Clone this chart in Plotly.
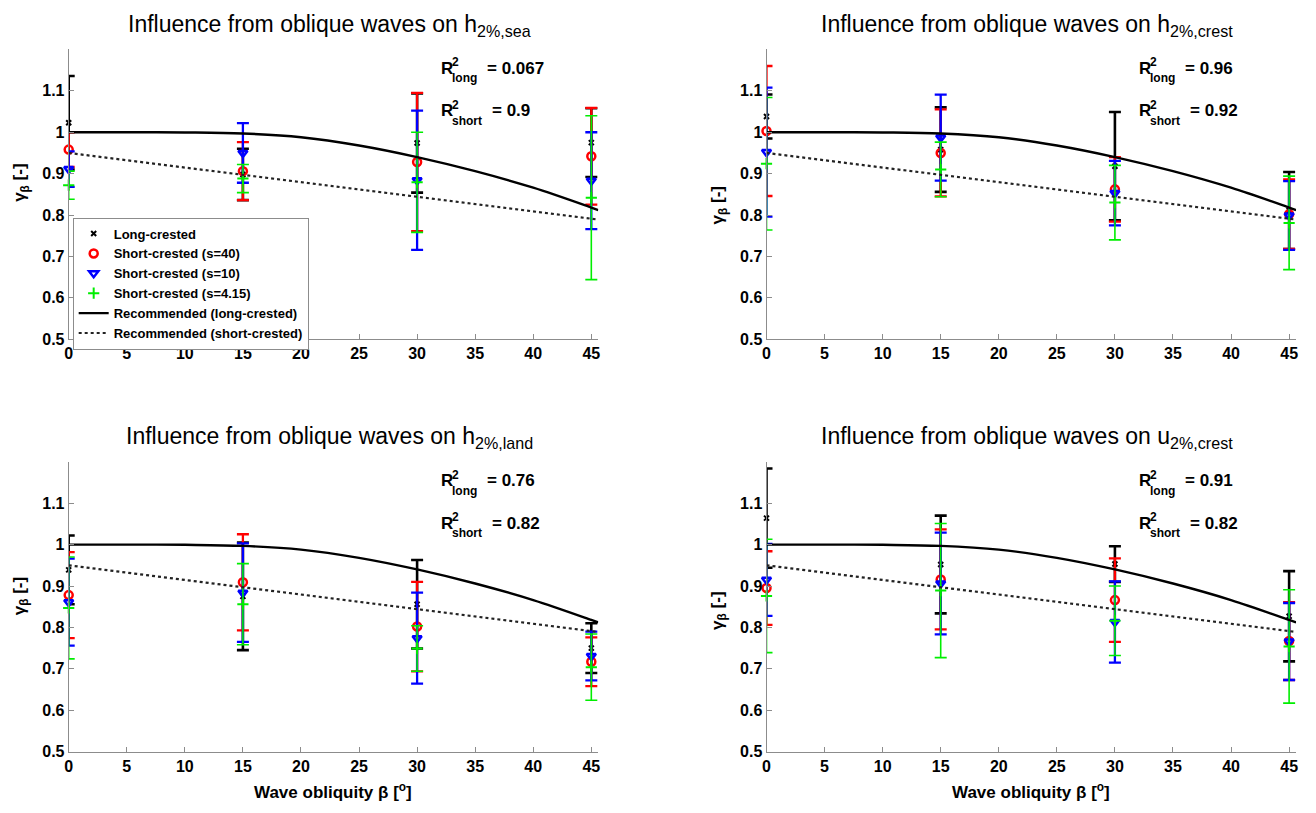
import plotly.graph_objects as go

# ---------------- data ----------------
beta = [0, 15, 30, 45]

# h2%,sea
sea_long = [1.023, 0.898, 0.974, 0.975]
sea_long_err = [0.113, 0.062, 0.120, 0.083]
sea_s40 = [0.958, 0.906, 0.928, 0.942]
sea_s40_err = [0.042, 0.070, 0.167, 0.117]
sea_s10 = [0.911, 0.950, 0.884, 0.883]
sea_s10_err = [0.043, 0.072, 0.168, 0.117]
sea_s415 = [0.872, 0.888, 0.879, 0.842]
sea_s415_err = [0.034, 0.034, 0.121, 0.198]

# h2%,crest
crest_long = [1.038, 0.958, 0.918, 0.811]
crest_long_err = [0.053, 0.102, 0.131, 0.093]
crest_s40 = [1.003, 0.950, 0.862, 0.802]
crest_s40_err = [0.157, 0.105, 0.078, 0.084]
crest_s10 = [0.952, 0.987, 0.853, 0.799]
crest_s10_err = [0.156, 0.104, 0.078, 0.083]
crest_s415 = [0.924, 0.910, 0.830, 0.781]
crest_s415_err = [0.160, 0.066, 0.090, 0.113]

# h2%,land
land_long = [0.939, 0.875, 0.856, 0.750]
land_long_err = [0.083, 0.130, 0.107, 0.060]
land_s40 = [0.878, 0.909, 0.802, 0.717]
land_s40_err = [0.104, 0.116, 0.108, 0.059]
land_s10 = [0.861, 0.884, 0.774, 0.731]
land_s10_err = [0.105, 0.119, 0.110, 0.059]
land_s415 = [0.847, 0.856, 0.749, 0.704]
land_s415_err = [0.123, 0.098, 0.055, 0.080]

# u2%,crest
u_long = [1.064, 0.952, 0.953, 0.827]
u_long_err = [0.120, 0.118, 0.043, 0.109]
u_s40 = [0.895, 0.916, 0.866, 0.767]
u_s40_err = [0.089, 0.121, 0.101, 0.094]
u_s10 = [0.915, 0.906, 0.813, 0.766]
u_s10_err = [0.087, 0.123, 0.098, 0.093]
u_s415 = [0.876, 0.889, 0.816, 0.754]
u_s415_err = [0.137, 0.162, 0.084, 0.137]

# recommended curves
rec_beta = [0, 5, 10, 15, 20, 25, 30, 35, 40, 45, 45.6]
rec_long = [1.0, 1.0, 0.9995, 0.997, 0.988, 0.968, 0.94, 0.906, 0.866, 0.818, 0.812]
rec_short_beta = [0, 45.6]
rec_short = [0.95, 0.789]

r2_long = ["0.067", "0.96", "0.76", "0.91"]
r2_short = ["0.9", "0.92", "0.82", "0.82"]
titles = ["h<sub>2%,sea</sub>", "h<sub>2%,crest</sub>", "h<sub>2%,land</sub>", "u<sub>2%,crest</sub>"]

series_names = ["Long-crested", "Short-crested (s=40)", "Short-crested (s=10)", "Short-crested (s=4.15)"]
panels = [
    [(sea_long, sea_long_err), (sea_s40, sea_s40_err), (sea_s10, sea_s10_err), (sea_s415, sea_s415_err)],
    [(crest_long, crest_long_err), (crest_s40, crest_s40_err), (crest_s10, crest_s10_err), (crest_s415, crest_s415_err)],
    [(land_long, land_long_err), (land_s40, land_s40_err), (land_s10, land_s10_err), (land_s415, land_s415_err)],
    [(u_long, u_long_err), (u_s40, u_s40_err), (u_s10, u_s10_err), (u_s415, u_s415_err)],
]

# ---------------- styling / layout ----------------
W, H = 1316, 813
FONT = "Arial, Liberation Sans, Helvetica, sans-serif"
colors = ["#000000", "#ff0000", "#0000ff", "#00ee00"]
symbols = ["x-thin-open", "circle-open", "triangle-down-open", "cross-thin-open"]
msizes = [5, 8, 8, 8]
mlw = [2, 2.5, 2.5, 2]
ethick = [2.6, 2.3, 2.3, 1.6]

def px(x):
    return x / W

def py(y):
    return 1 - y / H

# plot boxes in pixels: (left, right, top, bottom)
boxes = [(65, 597, 50, 343), (766, 1298, 50, 343), (65, 597, 467, 760), (766, 1298, 467, 760)]

fig = go.Figure()

for i, panel in enumerate(panels):
    xa = "x" if i == 0 else f"x{i+1}"
    ya = "y" if i == 0 else f"y{i+1}"
    for j, (vals, errs) in enumerate(panel):
        fig.add_trace(go.Scatter(
            x=beta, y=vals, mode="markers", name=series_names[j],
            xaxis=xa, yaxis=ya, showlegend=(i == 0), cliponaxis=False,
            marker=dict(symbol=symbols[j], size=msizes[j], color=colors[j],
                        line=dict(color=colors[j], width=mlw[j])),
            error_y=dict(type="data", array=errs, symmetric=True, color=colors[j],
                         thickness=ethick[j], width=6),
        ))
    fig.add_trace(go.Scatter(
        x=rec_beta, y=rec_long, mode="lines", name="Recommended (long-crested)",
        xaxis=xa, yaxis=ya, showlegend=(i == 0),
        line=dict(color="black", width=2.4, shape="spline", smoothing=1.0),
    ))
    fig.add_trace(go.Scatter(
        x=rec_short_beta, y=rec_short, mode="lines", name="Recommended (short-crested)",
        xaxis=xa, yaxis=ya, showlegend=(i == 0), line=dict(color="#222222", width=2.2, dash="dot"),
    ))

axis_common = dict(
    showline=True, linecolor="#8c8c8c", linewidth=1, mirror=False,
    ticks="inside", ticklen=5, tickcolor="#8c8c8c", showgrid=False, zeroline=False,
    tickfont=dict(family=FONT, size=16, color="black", weight="bold"),
)

layout = dict(
    width=W, height=H, margin=dict(l=0, r=0, t=0, b=0, pad=0),
    paper_bgcolor="white", plot_bgcolor="white",
    font=dict(family=FONT, color="black"),
    legend=dict(
        x=px(69), y=py(220), xanchor="left", yanchor="top",
        bgcolor="white", bordercolor="#8c8c8c", borderwidth=1,
        font=dict(family=FONT, size=13, color="black", weight="bold"),
        tracegroupgap=0, itemwidth=30,
    ),
)
for i, (l, r, t, b) in enumerate(boxes):
    xk = "xaxis" if i == 0 else f"xaxis{i+1}"
    yk = "yaxis" if i == 0 else f"yaxis{i+1}"
    ya = "y" if i == 0 else f"y{i+1}"
    xa = "x" if i == 0 else f"x{i+1}"
    layout[xk] = dict(axis_common, domain=[px(l), px(r)], range=[0, 45.6], anchor=ya,
                      tickvals=[0, 5, 10, 15, 20, 25, 30, 35, 40, 45])
    layout[yk] = dict(axis_common, domain=[py(b), py(t)], range=[0.5, 1.2], anchor=xa,
                      tickvals=[0.5, 0.6, 0.7, 0.8, 0.9, 1.0, 1.1],
                      ticktext=["0.5", "0.6", "0.7", "0.8", "0.9", "1", "1.1"])
fig.update_layout(**layout)

ann = []
bold = lambda s: dict(family=FONT, size=s, color="black", weight="bold")
title_y = [22, 22, 438, 438]
ylab_y = [185, 208, 603, 618]
for i, (l, r, t, b) in enumerate(boxes):
    cx = (l + r) / 2
    ann.append(dict(text="Influence from oblique waves on " + titles[i], x=px(cx - 4), y=py(title_y[i] + 4),
                    xref="paper", yref="paper", xanchor="center", yanchor="middle", showarrow=False,
                    font=dict(family=FONT, size=23, color="black")))
    ann.append(dict(text="\u03b3<sub>\u03b2</sub> [-]", x=px(l - 48), y=py(ylab_y[i]), textangle=-90,
                    xref="paper", yref="paper", xanchor="center", yanchor="middle", showarrow=False,
                    font=bold(17)))
    if i >= 2:
        ann.append(dict(text="Wave obliquity \u03b2 [<sup>o</sup>]", x=px(cx), y=py(800),
                        xref="paper", yref="paper", xanchor="center", yanchor="middle", showarrow=False,
                        font=bold(17)))
    # R^2 labels
    rx = l + 372
    ry1 = t + 19
    ry2 = t + 62
    for (yy, sub, val, eqoff) in [(ry1, "long", r2_long[i], 46), (ry2, "short", r2_short[i], 51)]:
        ann.append(dict(text="R", x=px(rx), y=py(yy), xref="paper", yref="paper", xanchor="left",
                        yanchor="middle", showarrow=False, font=bold(17)))
        ann.append(dict(text="2", x=px(rx + 11), y=py(yy - 6), xref="paper", yref="paper", xanchor="left",
                        yanchor="middle", showarrow=False, font=bold(12)))
        ann.append(dict(text=sub, x=px(rx + 11), y=py(yy + 10), xref="paper", yref="paper", xanchor="left",
                        yanchor="middle", showarrow=False, font=bold(12)))
        ann.append(dict(text="= " + val, x=px(rx + eqoff), y=py(yy), xref="paper", yref="paper",
                        xanchor="left", yanchor="middle", showarrow=False, font=bold(17)))
fig.update_layout(annotations=ann)

fig.write_html("out.html")
